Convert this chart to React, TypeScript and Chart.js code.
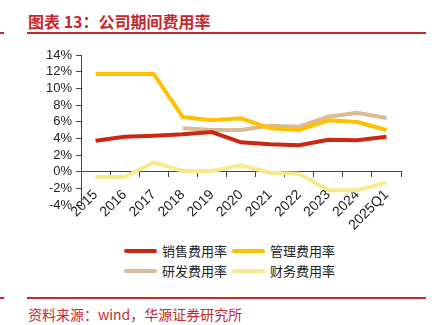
import React, { useEffect, useRef } from "react";
import { Chart, registerables } from "chart.js";

Chart.register(...registerables);

const categories = ["2015", "2016", "2017", "2018", "2019", "2020", "2021", "2022", "2023", "2024", "2025Q1"];
const salesRate = [3.72, 4.2, 4.32, 4.48, 4.76, 3.52, 3.28, 3.16, 3.84, 3.76, 4.2];
const mgmtRate = [11.72, 11.72, 11.72, 6.56, 6.16, 6.4, 5.2, 5.0, 6.16, 5.96, 5.0];
const rdRate = [null, null, null, 5.2, 5.0, 5.0, 5.52, 5.4, 6.6, 7.08, 6.44];
const financeRate = [-0.64, -0.64, 1.12, 0.08, 0.08, 0.76, -0.12, -0.24, -2.24, -2.24, -1.28];

const seriesNames = ["销售费用率", "管理费用率", "研发费用率", "财务费用率"];
const seriesColors = ["#CB2712", "#FFC000", "#D9BA93", "#F7E98C"];

const RED = "#C5282F";
const AXIS = "#444";
const FONT = "'Liberation Sans', Arial, sans-serif";
const CJK = "'Noto Sans CJK SC', sans-serif";

export default function App() {
  const ref = useRef<HTMLCanvasElement | null>(null);

  useEffect(() => {
    document.body.style.margin = "0";
    const canvas = ref.current;
    if (!canvas) return;
    const data = [salesRate, mgmtRate, rdRate, financeRate];
    const chart = new Chart(canvas, {
      type: "line",
      data: {
        labels: categories,
        datasets: data.map((d, i) => ({
          label: seriesNames[i],
          data: d as any,
          borderColor: seriesColors[i],
          backgroundColor: seriesColors[i],
          borderWidth: 4,
          pointRadius: 0,
          tension: 0,
          fill: false,
        })),
      },
      options: {
        animation: false,
        responsive: false,
        devicePixelRatio: 1,
        layout: { padding: { left: 0, right: 35, top: 15, bottom: 25 } },
        plugins: { legend: { display: false }, tooltip: { enabled: false } },
        scales: {
          x: {
            type: "category",
            position: { y: 0 } as any,
            offset: true,
            grid: { offset: true, drawOnChartArea: false, drawTicks: true, tickLength: 5, color: AXIS },
            border: { display: true, color: AXIS, width: 1 },
            ticks: {
              autoSkip: false,
              minRotation: 45,
              maxRotation: 45,
              color: "#222",
              padding: 10,
              font: { family: FONT, size: 14 },
            },
          },
          y: {
            min: -4,
            max: 14,
            afterFit: (s: any) => {
              s.width = 81;
            },
            grid: { drawOnChartArea: false, drawTicks: true, tickLength: 5, color: AXIS },
            border: { display: true, color: AXIS, width: 1 },
            ticks: {
              stepSize: 2,
              autoSkip: false,
              color: "#222",
              padding: 4,
              font: { family: FONT, size: 13 },
              callback: (v: any) => `${v}%`,
            },
          },
        },
      },
    });
    return () => chart.destroy();
  }, []);

  const legendPos = [
    { lx: 124, tx: 162, y: 251 },
    { lx: 232, tx: 270, y: 251 },
    { lx: 124, tx: 162, y: 271 },
    { lx: 232, tx: 270, y: 271 },
  ];

  return (
    <div style={{ position: "relative", width: 436, height: 325, background: "#fff", overflow: "hidden" }}>
      <div
        style={{
          position: "absolute",
          left: 28,
          top: 10,
          fontFamily: CJK,
          fontWeight: 700,
          fontSize: 16,
          lineHeight: "22px",
          color: RED,
          whiteSpace: "nowrap",
        }}
      >
        图表 13：公司期间费用率
      </div>
      <div style={{ position: "absolute", left: 0, top: 32, width: 4, height: 1.5, background: RED }} />
      <div style={{ position: "absolute", left: 27, top: 32, width: 399, height: 1.5, background: RED }} />
      <canvas
        ref={ref}
        width={436}
        height={190}
        style={{ position: "absolute", left: 0, top: 40, width: 436, height: 190 }}
      />
      {legendPos.map((p, i) => (
        <React.Fragment key={i}>
          <div
            style={{
              position: "absolute",
              left: p.lx,
              top: p.y - 2,
              width: 33,
              height: 4,
              borderRadius: 2,
              background: seriesColors[i],
            }}
          />
          <div
            style={{
              position: "absolute",
              left: p.tx,
              top: p.y - 10,
              fontFamily: CJK,
              fontSize: 13,
              lineHeight: "20px",
              color: "#222",
              whiteSpace: "nowrap",
            }}
          >
            {seriesNames[i]}
          </div>
        </React.Fragment>
      ))}
      <div style={{ position: "absolute", left: 0, top: 297, width: 4, height: 1.5, background: RED }} />
      <div style={{ position: "absolute", left: 27, top: 297, width: 399, height: 1.5, background: RED }} />
      <div
        style={{
          position: "absolute",
          left: 28,
          top: 304,
          fontFamily: CJK,
          fontSize: 14,
          lineHeight: "20px",
          color: RED,
          whiteSpace: "nowrap",
        }}
      >
        资料来源：wind，华源证券研究所
      </div>
    </div>
  );
}
